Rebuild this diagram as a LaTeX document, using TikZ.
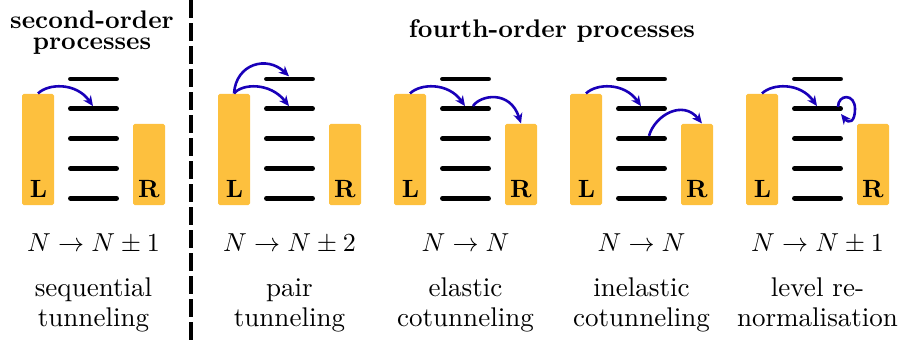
\documentclass[tikz,border=0pt]{standalone}
\usetikzlibrary{arrows.meta}
\definecolor{barcol}{RGB}{253,192,62}
\definecolor{arrcol}{RGB}{25,0,185}
\begin{document}
\begin{tikzpicture}[x=0.3846pt,y=-0.3846pt,
  bar/.style={fill=barcol, draw=none, rounded corners=0.6pt, inner sep=0pt, minimum width={32*0.3846pt}},
  lev/.style={line width=1.9pt, line cap=round},
  tun/.style={draw=arrcol, line width=1pt, -{Stealth[length=3.9pt,width=3.5pt,inset=1.2pt]}},
  lbl/.style={font=\fontsize{9.6}{11}\selectfont\bfseries, anchor=base, inner sep=0pt},
  proc/.style={font=\fontsize{10.4}{11.5}\selectfont, anchor=base, inner sep=0pt},
  ttl/.style={font=\fontsize{9.8}{11}\selectfont\bfseries, anchor=base, inner sep=0pt},
  sep/.style={line width=1.73pt, dash pattern=on 6.9pt off 1.95pt}
]
\useasboundingbox (0,0) rectangle (915,345);

% panels
\foreach \i/\ox in {1/0,2/196,3/372,4/548,5/724}{
  \begin{scope}[shift={(\ox,0)}]
    \node[bar, minimum height={111*0.3846pt}] (L\i) at (38,149.5) {};
    \node[bar, minimum height={81*0.3846pt}] (R\i) at (149,164.5) {};
    \node[lbl] (Ll\i) at (38.5,197.3) {L};
    \node[lbl] (Rl\i) at (149,197) {R};
    \foreach \k/\y in {1/79,2/108.8,3/138.6,4/168.4,5/198.2}{
      \draw[lev] (70.5,\y) coordinate (a\i\k) -- (116.5,\y) coordinate (b\i\k);
      \coordinate (u\i\k) at (93,\y-2.7);
      \coordinate (w\i\k) at (101,\y-2.7);
    }
  \end{scope}
}

% separator
\coordinate (sepT) at (191,0);
\coordinate (sepB) at (191,345);
\draw[sep] (sepT) -- (sepB);

% titles
\node[ttl] (t1a) at (92,28.3) {second-order};
\node[ttl] (t1b) at (92,50) {processes};
\node[ttl] (t2) at (552,37.7) {fourth-order processes};

% processes
\node[proc] (m1) at (93.5,251.7) {$N\to N\pm1$};
\node[proc] (m2) at (289.5,251.7) {$N\to N\pm2$};
\node[proc] (m3) at (465.5,251.7) {$N\to N$};
\node[proc] (m4) at (641.5,251.7) {$N\to N$};
\node[proc] (m5) at (817.5,251.7) {$N\to N\pm1$};

\node[proc] (n1a) at (93.5,296.7) {sequential};
\node[proc] (n1b) at (93.5,326.7) {tunneling};
\node[proc] (n2a) at (289.5,296.7) {pair};
\node[proc] (n2b) at (289.5,326.7) {tunneling};
\node[proc] (n3a) at (465.5,296.7) {elastic};
\node[proc] (n3b) at (465.5,326.7) {cotunneling};
\node[proc] (n4a) at (641.5,296.7) {inelastic};
\node[proc] (n4b) at (641.5,326.7) {cotunneling};
\node[proc] (n5a) at (817.5,296.7) {level re-};
\node[proc] (n5b) at (817.5,326.7) {normalisation};

% tunnelling arrows
\draw[tun] (L1.north) .. controls +(10,-10) and +(-17,-24) .. (u12);

\draw[tun] (L2.north) .. controls +(2,-30) and +(-22,-21) .. (u21);
\draw[tun] (L2.north) .. controls +(8,-10) and +(-19,-24) .. (u22);

\draw[tun] (L3.north) .. controls +(10,-10) and +(-17,-24) .. (u32);
\draw[tun] (w32) .. controls +(7,-11) and +(-11,-34) .. (R3.north);

\draw[tun] (L4.north) .. controls +(10,-10) and +(-17,-24) .. (u42);
\draw[tun] (w43) .. controls +(6,-21) and +(-19,-24) .. ([xshift=1.9pt]R4.north);

\draw[tun] (L5.north) .. controls +(10,-10) and +(-17,-24) .. (u52);
\coordinate (loopS) at (838,107);
\coordinate (loopE) at (841,114);
\draw[tun] (loopS) .. controls (838,94) and (855,93) .. (855,109) .. controls (855,122) and (849,124) .. (loopE);
\end{tikzpicture}
\end{document}
